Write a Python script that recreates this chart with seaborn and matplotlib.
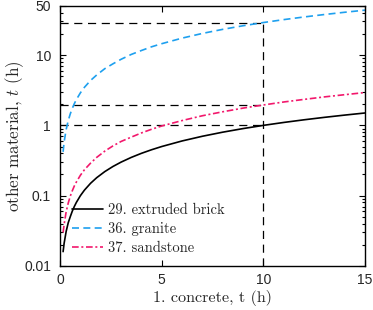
import numpy as np
import pandas as pd
import matplotlib
matplotlib.use("Agg")
import matplotlib.pyplot as plt
import matplotlib.ticker as mticker
import seaborn as sns

# concrete time (h) and equivalent time in the other material (h)
t_concrete = [0.15, 0.2, 0.3, 0.4, 0.5, 0.6, 0.7, 0.8, 1, 1.2, 1.5, 1.8, 2.2, 2.6, 3,
              3.5, 4, 4.5, 5, 6, 7, 8, 9, 10, 11, 12, 13, 14, 15]
t_brick = [0.016, 0.021, 0.031, 0.041, 0.05, 0.06, 0.07, 0.08, 0.1, 0.12, 0.15, 0.18,
           0.22, 0.26, 0.3, 0.35, 0.4, 0.45, 0.5, 0.6, 0.7, 0.8, 0.9, 1.0, 1.1, 1.2,
           1.3, 1.4, 1.5]
t_granite = [0.42, 0.58, 0.87, 1.16, 1.45, 1.74, 2.03, 2.32, 2.9, 3.48, 4.35, 5.2,
             6.4, 7.5, 8.7, 10.2, 11.6, 13.1, 14.5, 17.4, 20.3, 23.2, 26.1, 29, 31.9,
             34.8, 37.7, 40.6, 43.5]
t_sandstone = [0.03, 0.039, 0.059, 0.078, 0.098, 0.117, 0.137, 0.156, 0.195, 0.234,
               0.29, 0.35, 0.43, 0.51, 0.59, 0.68, 0.78, 0.88, 0.98, 1.17, 1.37, 1.56,
               1.76, 1.95, 2.15, 2.34, 2.54, 2.73, 2.93]

# dashed guides at 10 h of concrete
t_mark = 10
t_mark_values = [1.0, 1.95, 29]

ytick_vals = [0.01, 0.1, 1, 10, 50]
ytick_labels = ["0.01", "0.1", "1", "10", "50"]
xtick_vals = [0, 5, 10, 15]

sns.set_style("ticks")
plt.rcParams["font.family"] = ["Liberation Sans", "DejaVu Sans"]
plt.rcParams["mathtext.fontset"] = "cm"

df = pd.DataFrame({"x": t_concrete, "brick": t_brick,
                   "granite": t_granite, "sandstone": t_sandstone})

fig = plt.figure(figsize=(3.73, 3.10), dpi=100)
ax = fig.add_axes([0.161, 0.142, 0.818, 0.839])

# reference lines
for v in t_mark_values:
    ax.plot([0, t_mark], [v, v], color="black", lw=0.9, ls=(0, (6.5, 4.5)), zorder=1)
ax.plot([t_mark, t_mark], [0.01, max(t_mark_values)], color="black", lw=0.9,
        ls=(0, (6.5, 4.5)), zorder=1)

sns.lineplot(data=df, x="x", y="brick", ax=ax, color="black", lw=1.2,
             label="29. extruded brick")
sns.lineplot(data=df, x="x", y="granite", ax=ax, color="#1ea0ef", lw=1.2,
             ls=(0, (4.2, 2.6)), label="36. granite")
sns.lineplot(data=df, x="x", y="sandstone", ax=ax, color="#f2186c", lw=1.2,
             ls=(0, (4, 1.6, 1.2, 1.6)), label="37. sandstone")

ax.set_yscale("log")
ax.set_xlim(0, 15)
ax.set_ylim(0.01, 50)
ax.yaxis.set_major_locator(mticker.FixedLocator(ytick_vals))
ax.yaxis.set_major_formatter(mticker.FixedFormatter(ytick_labels))
ax.yaxis.set_minor_locator(mticker.LogLocator(base=10, subs=np.arange(2, 10)))
ax.yaxis.set_minor_formatter(mticker.NullFormatter())
ax.set_xticks(xtick_vals)

ax.tick_params(which="both", direction="in", top=True, right=True,
               labelsize=10, width=0.8, color="black")
ax.tick_params(which="major", length=4)
ax.tick_params(which="minor", length=2.5)
ax.tick_params(axis="y", pad=6.5)
ax.tick_params(axis="x", pad=5)
for s in ax.spines.values():
    s.set_linewidth(1.0)
    s.set_color("black")

ax.set_xlabel("1. concrete, t (h)", family="cmr10", fontsize=11.6, labelpad=2)
ax.set_ylabel("other material, $t$ (h)", family="cmr10", fontsize=12.3, labelpad=-1)

leg = ax.legend(loc="lower left", bbox_to_anchor=(-0.005, -0.01), frameon=False,
                handlelength=2.13, handletextpad=0.34, labelspacing=0.36,
                prop={"family": "cmr10", "size": 10.5})

fig.savefig("out.png", dpi=100)
